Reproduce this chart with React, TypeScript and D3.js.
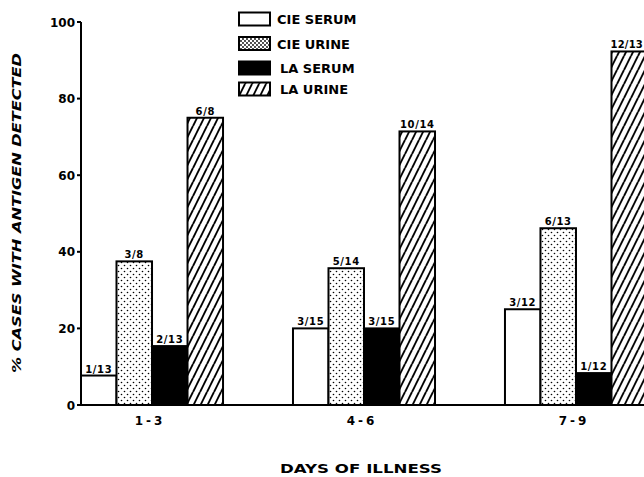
import React from "react";
import * as d3 from "d3";

const categories = ["1-3", "4-6", "7-9"];
const seriesNames = ["CIE SERUM", "CIE URINE", "LA SERUM", "LA URINE"];
const numerators = [
  [1, 3, 2, 6],
  [3, 5, 3, 10],
  [3, 6, 1, 12],
];
const denominators = [
  [13, 8, 13, 8],
  [15, 14, 15, 14],
  [12, 13, 12, 13],
];
const yTicks = [0, 20, 40, 60, 80, 100];

const W = 644;
const H = 477;
const FONT = "'DejaVu Sans', sans-serif";

const fills = ["#fff", "url(#dots)", "#000", "url(#hatch)"];

export default function App() {
  const y = d3.scaleLinear().domain([0, 100]).range([405, 22]);
  const x0 = d3.scaleBand<string>().domain(categories).range([81, 647]).paddingInner(0.33).paddingOuter(0);
  const x1 = d3.scaleBand<string>().domain(seriesNames).range([0, x0.bandwidth()]).padding(0);

  return (
    <svg width={W} height={H} style={{ position: "absolute", left: 0, top: 0, background: "#fff" }}>
      <defs>
        <pattern id="dots" patternUnits="userSpaceOnUse" width={6} height={6}>
          <rect width={6} height={6} fill="#fff" />
          <circle cx={1.5} cy={1.5} r={0.8} fill="#000" />
          <circle cx={4.5} cy={4.5} r={0.8} fill="#000" />
        </pattern>
        <pattern id="dotsLegend" patternUnits="userSpaceOnUse" width={4} height={4}>
          <rect width={4} height={4} fill="#fff" />
          <circle cx={1} cy={1} r={0.9} fill="#000" />
          <circle cx={3} cy={3} r={0.9} fill="#000" />
        </pattern>
        <pattern id="hatch" patternUnits="userSpaceOnUse" width={7} height={14}>
          <rect width={7} height={14} fill="#fff" />
          <line x1={-7} y1={14} x2={0} y2={0} stroke="#000" strokeWidth={1.9} />
          <line x1={0} y1={14} x2={7} y2={0} stroke="#000" strokeWidth={1.9} />
          <line x1={7} y1={14} x2={14} y2={0} stroke="#000" strokeWidth={1.9} />
        </pattern>
      </defs>

      {/* bars */}
      {categories.map((c, ci) => (
        <g key={c} transform={`translate(${x0(c)},0)`}>
          {seriesNames.map((s, si) => {
            const v = (numerators[ci][si] / denominators[ci][si]) * 100;
            const bx = x1(s)!;
            const bw = x1.bandwidth();
            const label = `${numerators[ci][si]}/${denominators[ci][si]}`;
            const absCenter = (x0(c) as number) + bx + bw / 2;
            const estHalf = label.length * 3.4;
            const overflow = absCenter + estHalf > W - 1;
            return (
              <g key={s}>
                <rect x={bx} y={y(v)} width={bw} height={y(0) - y(v)} fill={fills[si]} stroke="#000" strokeWidth={2} />
                <text
                  x={overflow ? W - 1 - (x0(c) as number) : bx + bw / 2}
                  y={y(v) - 3}
                  textAnchor={overflow ? "end" : "middle"}
                  fontFamily={FONT}
                  fontWeight="bold"
                  fontSize={10}
                  letterSpacing={overflow ? 0.2 : 0.6}
                >
                  {label}
                </text>
              </g>
            );
          })}
          <text
            x={x0.bandwidth() / 2 - 2}
            y={425}
            textAnchor="middle"
            fontFamily={FONT}
            fontWeight="bold"
            fontSize={12}
            letterSpacing={3}
          >
            {c}
          </text>
        </g>
      ))}

      {/* axes */}
      <line x1={81} y1={y(100)} x2={81} y2={y(0)} stroke="#000" strokeWidth={2} />
      <line x1={77} y1={y(0)} x2={644} y2={y(0)} stroke="#000" strokeWidth={2} />
      {yTicks.map((t) => (
        <g key={t}>
          <line x1={77} y1={y(t)} x2={81} y2={y(t)} stroke="#000" strokeWidth={2} />
          <text x={75} y={y(t) + 4.5} textAnchor="end" fontFamily={FONT} fontWeight="bold" fontSize={12}>
            {t}
          </text>
        </g>
      ))}

      {/* axis titles */}
      <text
        transform={`translate(21,213) rotate(-90)`}
        textAnchor="middle"
        fontFamily={FONT}
        fontWeight="bold"
        fontStyle="italic"
        fontSize={13}
        textLength={320}
        lengthAdjust="spacingAndGlyphs"
      >
        % CASES WITH ANTIGEN DETECTED
      </text>
      <text
        x={361}
        y={473}
        textAnchor="middle"
        fontFamily={FONT}
        fontWeight="bold"
        fontSize={13}
        textLength={162}
        lengthAdjust="spacingAndGlyphs"
      >
        DAYS OF ILLNESS
      </text>

      {/* legend */}
      {seriesNames.map((s, i) => {
        const cy = [19, 43.5, 68, 89][i];
        return (
          <g key={s}>
            <rect
              x={239}
              y={cy - 6.5}
              width={31}
              height={13}
              fill={i === 1 ? "url(#dotsLegend)" : fills[i]}
              stroke="#000"
              strokeWidth={2}
            />
            <text x={i < 2 ? 277 : 280} y={cy + 5} fontFamily={FONT} fontWeight="bold" fontSize={13}>
              {s}
            </text>
          </g>
        );
      })}
    </svg>
  );
}
